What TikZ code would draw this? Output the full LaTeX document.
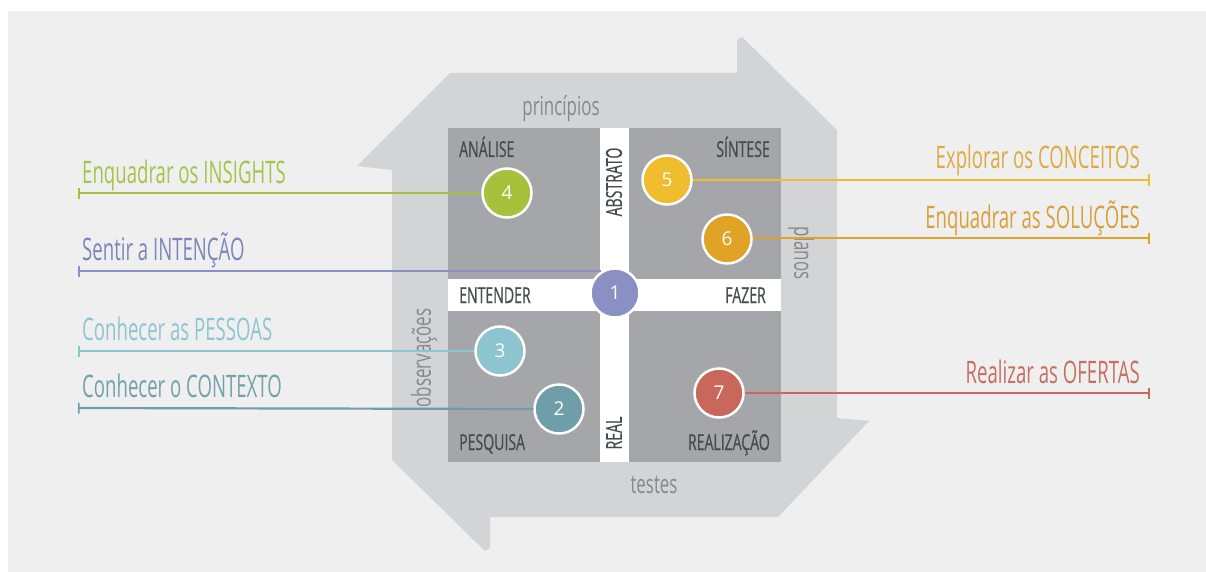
\documentclass[tikz,border=0pt]{standalone}
\usepackage{fontspec}
\setmainfont{Open Sans}
\newfontfamily\cnd[FakeStretch=0.64,FakeBold=0.6]{Open Sans}
\newfontfamily\cndb[FakeStretch=0.60]{Open Sans}
\newfontfamily\cnds[FakeStretch=0.65]{Open Sans}
\usetikzlibrary{arrows.meta}
\definecolor{bgc}{HTML}{EFEFEF}
\definecolor{arr}{HTML}{D3D4D6}
\definecolor{quad}{HTML}{A4A6A9}
\definecolor{qtext}{HTML}{484A4E}
\definecolor{soft}{HTML}{86888B}
\definecolor{k1}{HTML}{8B90C4}
\definecolor{k2}{HTML}{6E9EA8}
\definecolor{k3}{HTML}{8CC4D0}
\definecolor{k4}{HTML}{A6C13C}
\definecolor{k5}{HTML}{F0BD2E}
\definecolor{k6}{HTML}{E0A326}
\definecolor{k7}{HTML}{C9675A}
\definecolor{t1}{HTML}{7F84BC}
\definecolor{t2}{HTML}{72A1AA}
\definecolor{t3}{HTML}{8FC5D0}
\definecolor{t4}{HTML}{A8C24A}
\definecolor{t5}{HTML}{DDAA44}
\definecolor{t6}{HTML}{D9A03A}
\definecolor{t7}{HTML}{C56F60}
\tikzset{
  qlab/.style={inner sep=0pt, text=qtext, font=\cnd\fontsize{22}{22}\selectfont},
  softlab/.style={inner sep=0pt, text=soft, font=\cnds\fontsize{26}{26}\selectfont},
  sidelab/.style={inner sep=0pt, font=\cndb\fontsize{31}{31}\selectfont},
  num/.style={circle, draw=white, line width=2.5pt, minimum size=49pt, inner sep=0pt,
    text=white, font=\fontsize{19}{19}\selectfont},
  conn/.style={line width=2.2pt, {Bar[width=11pt,line width=1.6pt]}-}
}
\begin{document}
\begin{tikzpicture}[x=1pt,y=-1pt]
\path[use as bounding box] (0,0) rectangle (1206,572);
\fill[white] (0,0) rectangle (1206,572);
\fill[bgc] (8,11) rectangle (1206,572);
% rotating frame of arrows
\fill[arr] (392,170) -- (357,166) -- (450,73) -- (737,73) -- (737,40) -- (742,37)
  -- (837,130) -- (837,418) -- (869,421) -- (778,517) -- (490,517) -- (490,548)
  -- (485,551) -- (392,460) -- cycle;
% quadrants
\fill[quad] (448,128) rectangle (600,279);
\fill[quad] (629,128) rectangle (781,279);
\fill[quad] (448,311) rectangle (600,462);
\fill[quad] (629,311) rectangle (781,462);
\fill[white] (600,128) rectangle (629,462);
\fill[white] (448,279) rectangle (781,311);
% quadrant labels
\node[qlab, anchor=base west] (analise) at (459,157) {ANÁLISE};
\node[qlab, anchor=base east] (sintese) at (770,157) {SÍNTESE};
\node[qlab, anchor=base west] (entender) at (459,303) {ENTENDER};
\node[qlab, anchor=base east] (fazer) at (766,303) {FAZER};
\node[qlab, anchor=base west] (pesquisa) at (459,450) {PESQUISA};
\node[qlab, anchor=base east] (realizacao) at (770,450) {REALIZAÇÃO};
\node[qlab, rotate=90] (abstrato) at (614,182) {ABSTRATO};
\node[qlab, rotate=90] (real) at (614,433) {REAL};
% frame labels
\node[softlab, anchor=base] (principios) at (561,116) {princípios};
\node[softlab, anchor=base] (testes) at (654,493) {testes};
\node[softlab, rotate=90] (observacoes) at (424,358) {observações};
\node[softlab, rotate=-90] (planos) at (801,253) {planos};
% circles
\node[num, fill=k1] (c1) at (615,293) {1};
\node[num, fill=k2] (c2) at (559,409) {2};
\node[num, fill=k3] (c3) at (500,351) {3};
\node[num, fill=k4] (c4) at (507,193) {4};
\node[num, fill=k5] (c5) at (667,180) {5};
\node[num, fill=k6] (c6) at (727,239) {6};
\node[num, fill=k7] (c7) at (719,393) {7};
% end points
\coordinate (e4) at (78,193);
\coordinate (e1) at (78,271);
\coordinate (f1) at (601,271);
\coordinate (e3) at (78,351);
\coordinate (e2) at (78,408);
\coordinate (e5) at (1150,180);
\coordinate (e6) at (1150,238);
\coordinate (e7) at (1150,393);
% connectors
\draw[conn, draw=k4] (e4) -- (c4.west);
\draw[conn, draw=k1] (e1) -- (f1);
\draw[conn, draw=k3] (e3) -- (c3.west);
\draw[conn, draw=k2] (e2) -- (c2.west);
\draw[conn, draw=k5] (e5) -- (c5.east);
\draw[conn, draw=k6] (e6) -- (c6.east |- e6);
\draw[conn, draw=k7] (e7) -- (c7.east);
% side labels
\node[sidelab, text=t4, anchor=base west] (l4) at (82,183) {Enquadrar os INSIGHTS};
\node[sidelab, text=t1, anchor=base west] (l1) at (82,260) {Sentir a INTENÇÃO};
\node[sidelab, text=t3, anchor=base west] (l3) at (82,340) {Conhecer as PESSOAS};
\node[sidelab, text=t2, anchor=base west] (l2) at (82,397) {Conhecer o CONTEXTO};
\node[sidelab, text=t5, anchor=base east] (l5) at (1140,168) {Explorar os CONCEITOS};
\node[sidelab, text=t6, anchor=base east] (l6) at (1140,228) {Enquadrar as SOLUÇÕES};
\node[sidelab, text=t7, anchor=base east] (l7) at (1140,383) {Realizar as OFERTAS};
\end{tikzpicture}
\end{document}
